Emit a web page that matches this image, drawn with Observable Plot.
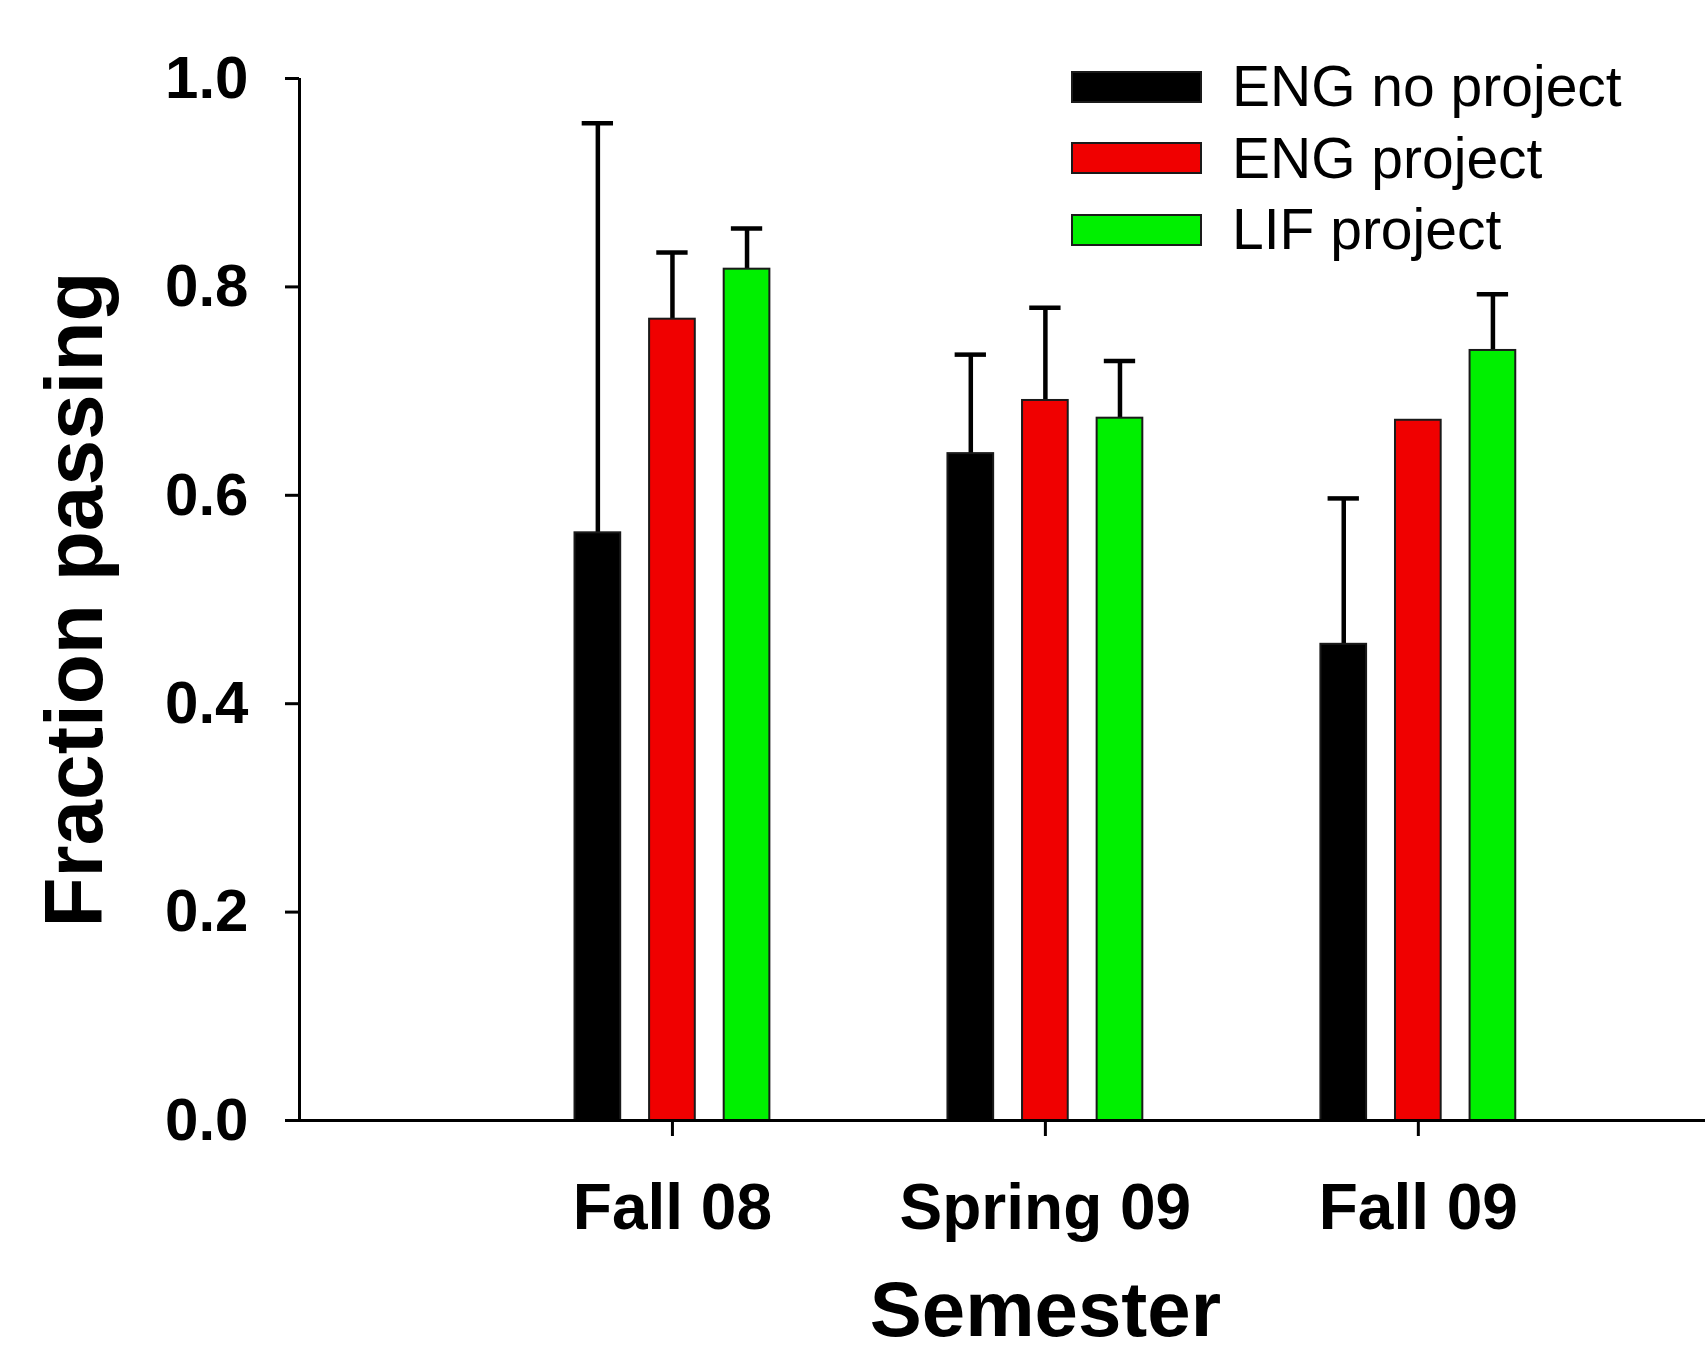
<!DOCTYPE html>
<html>
<head>
<meta charset="utf-8">
<script src="https://cdn.jsdelivr.net/npm/d3@7"></script>
<script src="https://cdn.jsdelivr.net/npm/@observablehq/plot@0.6"></script>
<style>
  html, body { margin: 0; padding: 0; background: #fff; }
  #wrap { position: relative; width: 1705px; height: 1355px; overflow: hidden; }
  #legend { position: absolute; left: 1071px; top: 51px; font-family: "Liberation Sans", Arial, sans-serif; }
  .row { display: flex; align-items: center; height: 71.5px; }
  .sw { width: 127px; height: 28px; border: 2px solid #1a1a1a; box-sizing: content-box; }
  .lab { margin-left: 30px; font-size: 57px; color: #000; line-height: 1; }
</style>
</head>
<body>
<div id="wrap"><div id="legend"></div></div>
<script>
// ---- data ----
const semesters = ["Fall 08", "Spring 09", "Fall 09"];
const seriesNames = ["ENG no project", "ENG project", "LIF project"];
const seriesColors = ["#000000", "#f00000", "#00f000"];
const engNoProject    = [0.564, 0.640, 0.457];
const engNoProjectErr = [0.393, 0.095, 0.140];
const engProject      = [0.769, 0.691, 0.672];
const engProjectErr   = [0.064, 0.089, 0.000];
const lifProject      = [0.817, 0.674, 0.739];
const lifProjectErr   = [0.039, 0.055, 0.054];
const yTicks = [0, 0.2, 0.4, 0.6, 0.8, 1.0];
const yLabel = "Fraction passing";
const xLabel = "Semester";

// ---- layout constants (in x-scale units) ----
const groupOffset = 0.2;
const barWidth = 0.1225;
const capHalf = 0.042;

const values = [engNoProject, engProject, lifProject];
const errs = [engNoProjectErr, engProjectErr, lifProjectErr];
const rows = semesters.flatMap((s, i) => seriesNames.map((name, j) => ({
  semester: s, series: name,
  pos: i + 1 + (j - 1) * groupOffset,
  value: values[j][i], err: errs[j][i]
})));
const errRows = rows.filter(d => d.err > 0);

const chart = Plot.plot({
  width: 1705,
  height: 1355,
  marginLeft: 299,
  marginRight: 0,
  marginTop: 78,
  marginBottom: 235,
  style: { fontFamily: "'Liberation Sans', Arial, sans-serif", background: "#fff", color: "#000", overflow: "visible" },
  x: { type: "linear", domain: [0, 3.77] },
  y: { domain: [0, 1] },
  color: { domain: seriesNames, range: seriesColors },
  marks: [
    Plot.ruleX(errRows, { x: "pos", y1: "value", y2: d => d.value + d.err, stroke: "#000", strokeWidth: 4.5 }),
    Plot.ruleY(errRows, { y: d => d.value + d.err, x1: d => d.pos - capHalf, x2: d => d.pos + capHalf, stroke: "#000", strokeWidth: 4.5 }),
    Plot.rectY(rows, {
      x1: d => d.pos - barWidth / 2, x2: d => d.pos + barWidth / 2,
      y1: 0, y2: "value", fill: "series", stroke: "#1a1a1a", strokeWidth: 2
    }),
    Plot.axisY({ ticks: yTicks, tickFormat: d3.format(".1f"), tickSize: 14, tickPadding: 37,
      fontSize: 60, fontWeight: "bold", strokeWidth: 3, label: null }),
    Plot.axisX({ ticks: semesters.map((s, i) => i + 1), tickFormat: v => semesters[Math.round(v) - 1],
      tickSize: 16, tickPadding: 47, fontSize: 64, fontWeight: "bold", strokeWidth: 3, label: null }),
    Plot.ruleX([0], { stroke: "#000", strokeWidth: 3 }),
    Plot.ruleY([0], { stroke: "#000", strokeWidth: 3 }),
    Plot.text([yLabel], { frameAnchor: "left", dx: -224, rotate: -90, text: d => d,
      fontSize: 82, fontWeight: "bold", textAnchor: "middle", lineAnchor: "middle" }),
    Plot.text([xLabel], { x: [2], frameAnchor: "bottom", dy: 160, text: d => d,
      fontSize: 78, fontWeight: "bold", textAnchor: "middle", lineAnchor: "top" })
  ]
});
document.getElementById("wrap").prepend(chart);

const legend = document.getElementById("legend");
seriesNames.forEach((name, j) => {
  const row = document.createElement("div");
  row.className = "row";
  const sw = document.createElement("div");
  sw.className = "sw";
  sw.style.background = seriesColors[j];
  const lab = document.createElement("div");
  lab.className = "lab";
  lab.textContent = name;
  row.append(sw, lab);
  legend.append(row);
});
</script>
</body>
</html>
